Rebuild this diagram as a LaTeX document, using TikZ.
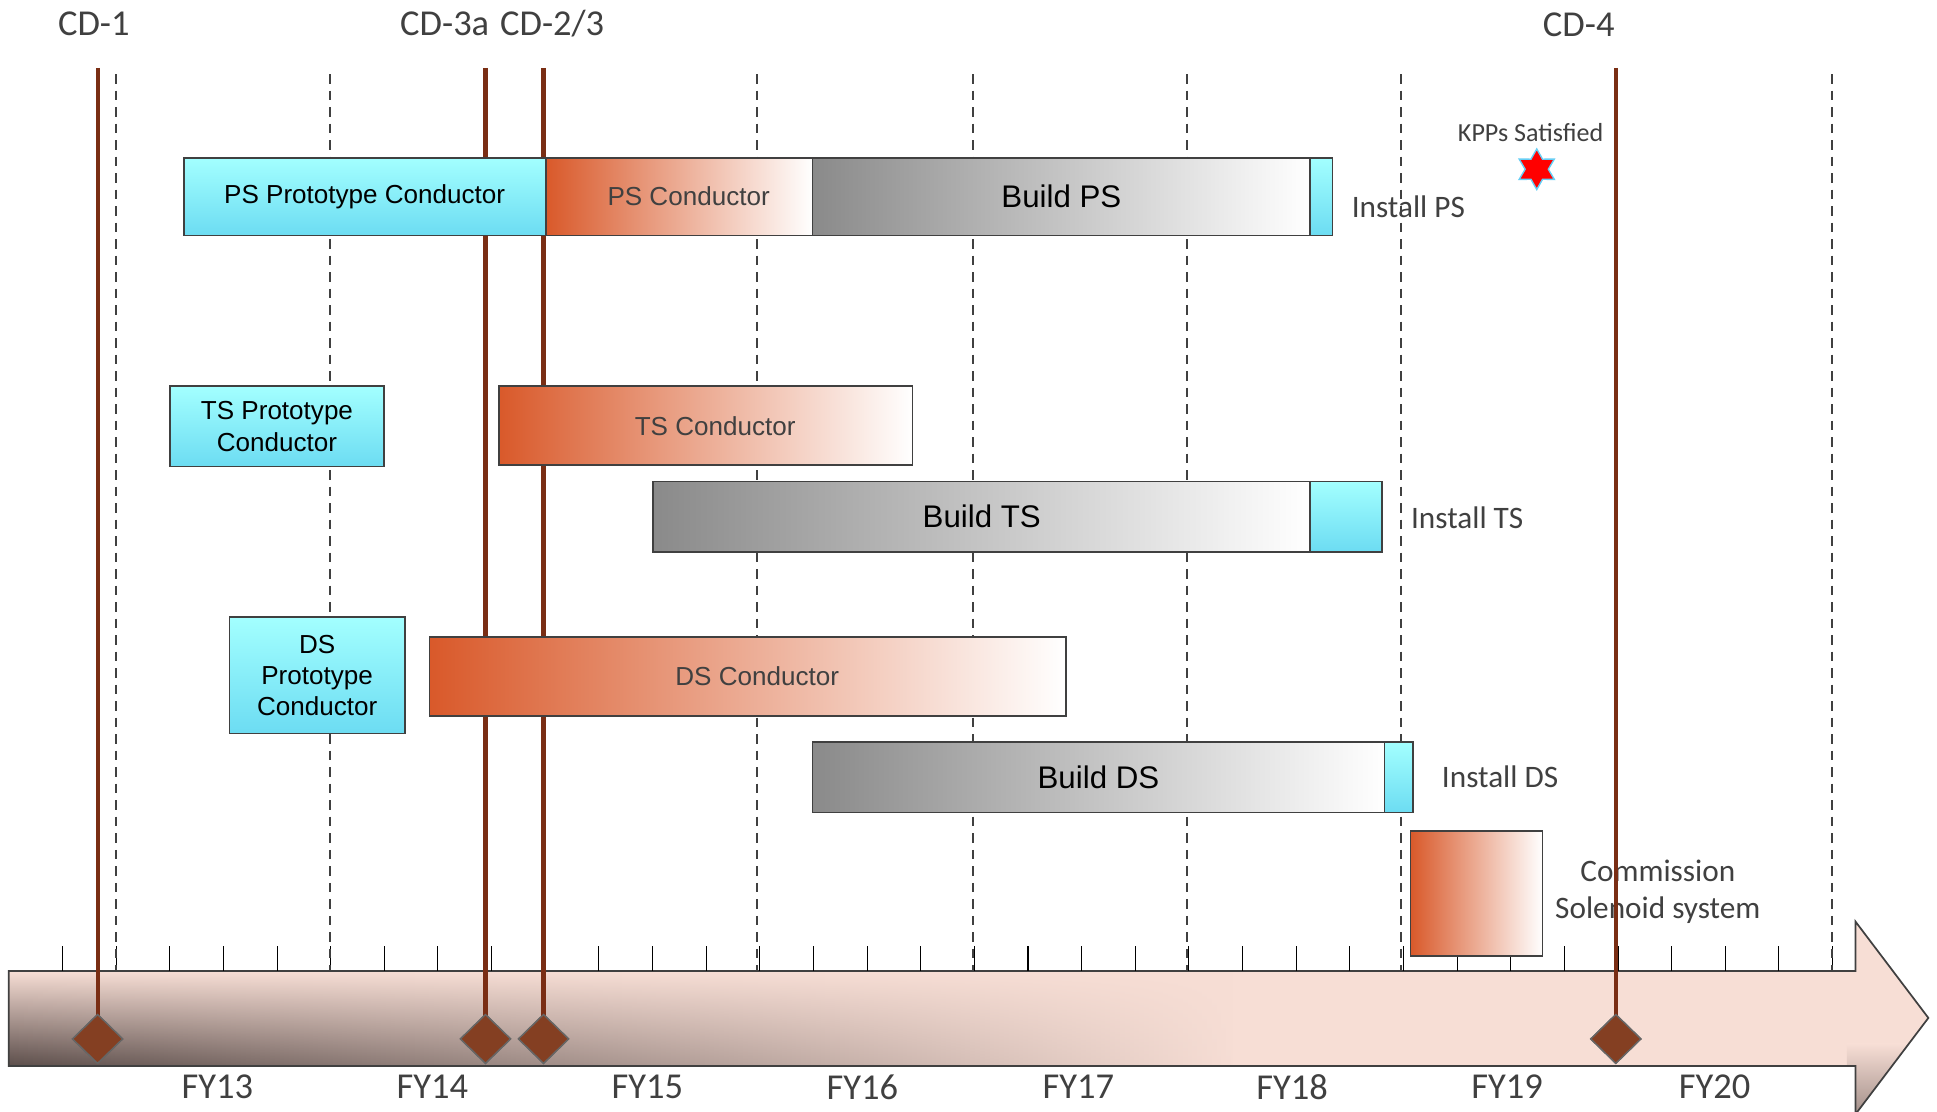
\documentclass[tikz,border=0pt]{standalone}
\usepackage{fontspec}
\setmainfont{Liberation Sans}
\newfontfamily\carl{Carlito}
\usetikzlibrary{shapes.geometric,fadings}
\definecolor{cyantop}{HTML}{A3FFFF}
\definecolor{cyanbot}{HTML}{6CDCF2}
\definecolor{orng}{HTML}{D9592A}
\definecolor{bargray}{HTML}{8A8A8A}
\definecolor{edge}{HTML}{404040}
\definecolor{mile}{HTML}{7A2E14}
\definecolor{diam}{HTML}{843F22}
\definecolor{axpink}{HTML}{F7DED5}
\definecolor{axdark}{HTML}{5A4C49}
\definecolor{lbl}{HTML}{404040}
\begin{document}
\begin{tikzpicture}[x=0.025cm,y=-0.025cm,
 sz/.style 2 args={minimum width=#1*0.025cm,minimum height=#2*0.025cm},
 gbar/.style={draw=edge,line width=1pt,anchor=north west,inner sep=0pt,align=center},
 proto/.style={gbar,top color=cyantop,bottom color=cyanbot,font=\fontsize{15}{18}\selectfont},
 cond/.style={gbar,left color=orng,right color=white,text=lbl,font=\fontsize{15}{18}\selectfont},
 build/.style={gbar,left color=bargray,right color=white,font=\fontsize{18}{21}\selectfont},
 inst/.style={gbar,top color=cyantop,bottom color=cyanbot},
 lab/.style={font=\carl\fontsize{18}{21.5}\selectfont,text=lbl,inner sep=0pt},
 cd/.style={font=\carl\fontsize{21}{25}\selectfont,text=lbl,inner sep=0pt},
 dashgrid/.style={draw=edge,line width=1.1pt,dash pattern=on 5.5pt off 4pt},
 mileline/.style={draw=mile,line width=2.4pt},
 ms/.style={diamond,shape aspect=1,fill=diam,draw=gray!80!black,line width=0.8pt,sz={41}{40},inner sep=0pt}
]
\useasboundingbox (0,0) rectangle (1568,900);
\begin{scope}
\clip (0,0) rectangle (1568,900);
% axis arrow
\path[fill=axpink] (7,786) -- (1502,786) -- (1502,746) -- (1561,824) -- (1502,902) -- (1502,863) -- (7,863) -- cycle;
\begin{scope}
\clip (7,786) -- (1502,786) -- (1502,746) -- (1561,824) -- (1502,902) -- (1502,863) -- (7,863) -- cycle;
\shade[top color=axpink,bottom color=axdark,path fading=east] (7,786) rectangle (1000,864);
\shade[top color=axpink,bottom color=axdark!55!axpink] (1495,845) rectangle (1565,903);
\end{scope}
\draw[edge,line width=1pt] (7,786) -- (1502,786) -- (1502,746) -- (1561,824) -- (1502,902) -- (1502,863) -- (7,863) -- cycle;
% ticks
\foreach \k in {0,...,33} \draw[black,line width=0.6pt] ({50.6+43.42*\k},766) -- ({50.6+43.42*\k},786);
% year labels
\foreach \x/\t in {176/FY13,350/FY14,524/FY15,698/FY16,873/FY17,1046/FY18,1220/FY19,1388/FY20}
  \node[cd] (fy\t) at (\x,880) {\t};
% milestone labels
\node[cd] (cd1) at (76,19) {CD-1};
\node[cd] (cd3a) at (360,19) {CD-3a};
\node[cd] (cd23) at (447,19) {CD-2/3};
\node[cd] (cd4) at (1278,20) {CD-4};
% side labels
\node[lab,anchor=west] (lps) at (1094,167) {Install PS};
\node[lab,anchor=west] (lts) at (1142,419) {Install TS};
\node[lab,anchor=west] (lds) at (1167,629) {Install DS};
\node[lab,align=center] (lcomm) at (1342,722) {Commission\\Solenoid system};
\node[lab,font=\carl\fontsize{15}{18}\selectfont] (kpp) at (1239,107) {KPPs Satisfied};
% year grid
\foreach \x [count=\i] in {94,267,613,788,961,1134,1483} {
  \coordinate (gt\i) at (\x,60);
  \coordinate (gb\i) at (\x,786);
  \draw[dashgrid] (gt\i) -- (gb\i);
}
% milestones
\node[ms] (d1) at (79,841) {};
\node[ms] (d2) at (393,841) {};
\node[ms] (d3) at (440,841) {};
\node[ms] (d4) at (1308,841) {};
\coordinate (t1) at (79,55);
\coordinate (t2) at (393,55);
\coordinate (t3) at (440,55);
\coordinate (t4) at (1308,55);
\draw[mileline] (t1) -- (d1.center);
\draw[mileline] (t2) -- (d2.center);
\draw[mileline] (t3) -- (d3.center);
\draw[mileline] (t4) -- (d4.center);
\node[ms] at (d1) {};
\node[ms] at (d2) {};
\node[ms] at (d3) {};
\node[ms] at (d4) {};
% PS row
\node[proto,sz={293}{63}] (psproto) at (148,127) {PS Prototype Conductor};
\node[cond,sz={216}{63}] (pscond) at (441,127) {\hspace*{11pt}PS Conductor};
\node[build,sz={403}{63}] (psbuild) at (657,127) {Build PS};
\node[inst,sz={18}{63}] (psinst) at (1060,127) {};
% TS row
\node[proto,sz={173}{65}] (tsproto) at (137,312) {TS Prototype\\Conductor};
\node[cond,sz={335}{64}] (tscond) at (403,312) {\hspace*{11pt}TS Conductor};
\node[build,sz={532}{57}] (tsbuild) at (528,389) {Build TS};
\node[inst,sz={58}{57}] (tsinst) at (1060,389) {};
% DS row
\node[proto,sz={142}{94}] (dsproto) at (185,499) {DS\\Prototype\\Conductor};
\node[cond,sz={515}{64}] (dscond) at (347,515) {\hspace*{11pt}DS Conductor};
\node[build,sz={463}{57}] (dsbuild) at (657,600) {Build DS};
\node[inst,sz={23}{57}] (dsinst) at (1120,600) {};
% commissioning
\node[cond,sz={107}{101}] (comm) at (1141,672) {};
% star
\node[star,star points=6,star point ratio=1.75,minimum size=0.82cm,inner sep=0pt,fill=red,draw=cyan!60!white,line width=0.8pt] (star) at (1244,137) {};
\end{scope}
\end{tikzpicture}
\end{document}
